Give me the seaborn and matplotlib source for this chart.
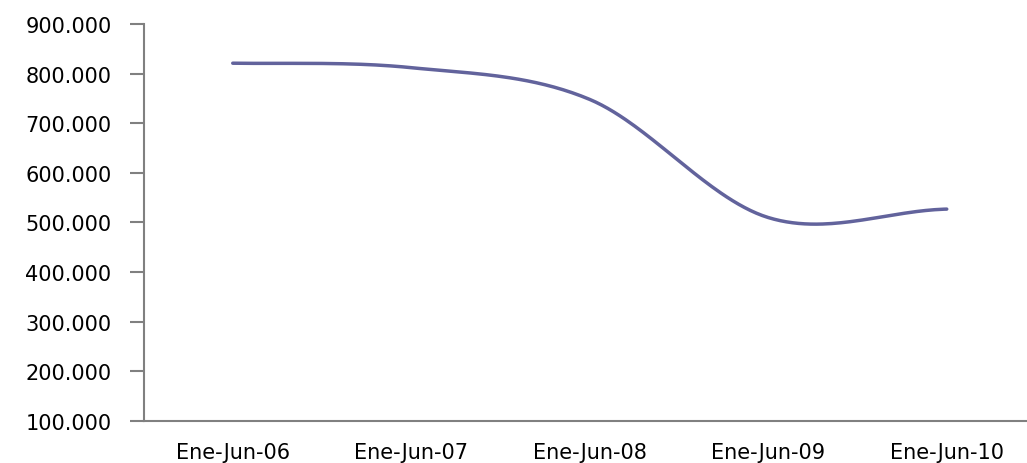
import numpy as np
import pandas as pd
import matplotlib
matplotlib.use("Agg")
import matplotlib.pyplot as plt
import seaborn as sns
from matplotlib.ticker import FuncFormatter

categories = ["Ene-Jun-06", "Ene-Jun-07", "Ene-Jun-08", "Ene-Jun-09", "Ene-Jun-10"]
values = [821000, 812000, 748000, 510000, 527000]
yticks = [100000, 200000, 300000, 400000, 500000, 600000, 700000, 800000, 900000]

# Excel-style smoothed line (Catmull-Rom between the data points)
def smooth(vals, n=60):
    p = [vals[0]] + list(vals) + [vals[-1]]
    xs, ys = [], []
    for i in range(len(vals) - 1):
        p0, p1, p2, p3 = p[i], p[i + 1], p[i + 2], p[i + 3]
        m1 = (p2 - p0) / 2.0
        m2 = (p3 - p1) / 2.0
        t = np.linspace(0, 1, n, endpoint=(i == len(vals) - 2))
        h00 = 2 * t**3 - 3 * t**2 + 1
        h10 = t**3 - 2 * t**2 + t
        h01 = -2 * t**3 + 3 * t**2
        h11 = t**3 - t**2
        ys.extend(h00 * p1 + h10 * m1 + h01 * p2 + h11 * m2)
        xs.extend(i + t)
    return np.array(xs), np.array(ys)

sx, sy = smooth(values)
df = pd.DataFrame({"x": sx, "y": sy})

sns.set_theme(style="white")
plt.rcParams["font.family"] = ["DejaVu Sans"]

fig = plt.figure(figsize=(10.27, 4.64), dpi=100)
ax = fig.add_axes([143.5 / 1027, 42 / 464, (1036 - 143.5) / 1027, (422 - 25) / 464])

sns.lineplot(data=df, x="x", y="y", ax=ax, color="#62639C", linewidth=2.5, sort=False)

ax.set_xlim(-0.5, 4.5)
ax.set_ylim(100000, 900000)
ax.set_yticks(yticks)
ax.yaxis.set_major_formatter(FuncFormatter(lambda v, p: f"{int(v):,}".replace(",", ".")))
ax.set_xticks(range(len(categories)))
ax.set_xticklabels(categories)
ax.set_xticks(np.arange(-0.5, 4.6, 1), minor=True)
ax.tick_params(axis="x", which="major", length=0, pad=15, labelsize=15, colors="black")
ax.tick_params(axis="x", which="minor", length=5, width=1.5, color="#808080", direction="out")
ax.tick_params(axis="y", which="major", length=10, width=1.5, color="#808080", pad=13,
               labelsize=15, labelcolor="black", left=True)
ax.set_xlabel("")
ax.set_ylabel("")
for s in ["top", "right"]:
    ax.spines[s].set_visible(False)
for s in ["left", "bottom"]:
    ax.spines[s].set_color("#808080")
    ax.spines[s].set_linewidth(1.5)
ax.grid(False)

fig.savefig("out.png", dpi=100)
